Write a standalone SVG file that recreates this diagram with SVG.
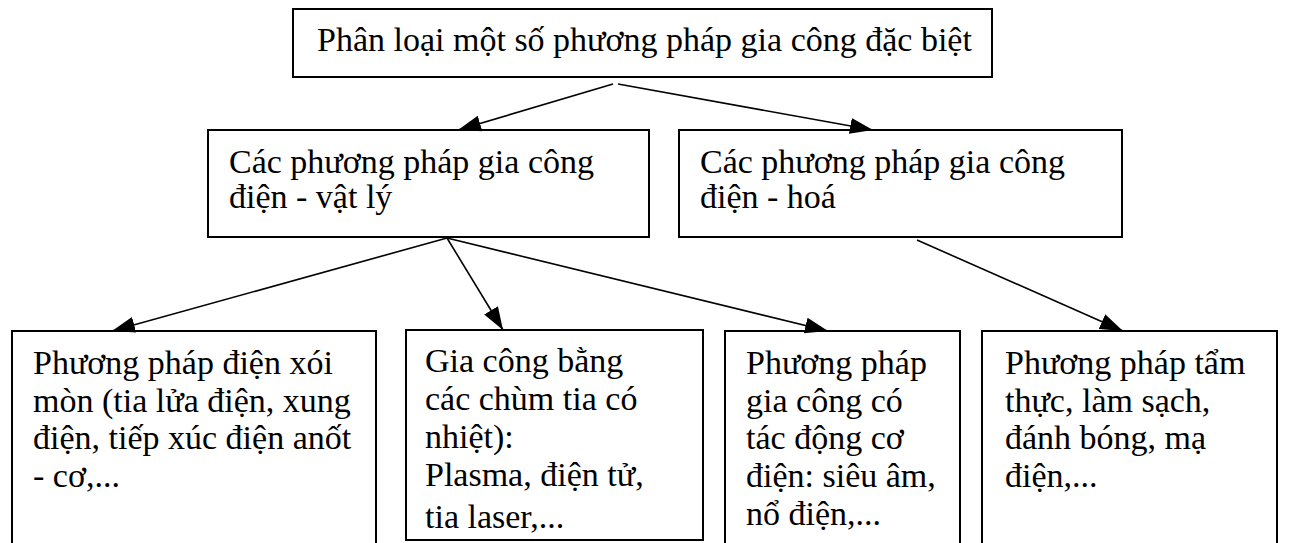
<svg xmlns="http://www.w3.org/2000/svg" width="1289" height="543" viewBox="0 0 1289 543">
<style>
.box{fill:#fff;stroke:#000;stroke-width:2}
.t{font-family:"Liberation Serif","Times New Roman",serif;font-size:34px;fill:#000}
.c{stroke:#000;stroke-width:1.6;fill:none}
</style>
<defs>
<marker id="ah" viewBox="0 0 10 10" refX="10" refY="5" markerWidth="23" markerHeight="23" markerUnits="userSpaceOnUse" orient="auto">
<path d="M0,1.5 L10,5 L0,8.5 Z" fill="#000"/>
</marker>
</defs>
<rect width="1289" height="543" fill="#fff"/>
<g id="n0"><rect class="box" x="293" y="9" width="699" height="68"/>
<text class="t" x="317" y="51">Phân loại một số phương pháp gia công đặc biệt</text></g>
<g id="n1"><rect class="box" x="208" y="130" width="441" height="107"/>
<text class="t" x="229" y="173">Các phương pháp gia công</text>
<text class="t" x="229" y="208">điện - vật lý</text></g>
<g id="n2"><rect class="box" x="679" y="130" width="443" height="107"/>
<text class="t" x="700" y="173">Các phương pháp gia công</text>
<text class="t" x="700" y="208">điện - hoá</text></g>
<g id="n3"><rect class="box" x="12" y="331" width="364" height="230"/>
<text class="t" x="33" y="374">Phương pháp điện xói</text>
<text class="t" x="33" y="412">mòn (tia lửa điện, xung</text>
<text class="t" x="33" y="449">điện, tiếp xúc điện anốt</text>
<text class="t" x="33" y="487">- cơ,...</text></g>
<g id="n4"><rect class="box" x="406" y="330" width="297" height="210"/>
<text class="t" x="425" y="372">Gia công bằng</text>
<text class="t" x="425" y="410">các chùm tia có</text>
<text class="t" x="425" y="448">nhiệt):</text>
<text class="t" x="425" y="486">Plasma, điện tử,</text>
<text class="t" x="425" y="528">tia laser,...</text></g>
<g id="n5"><rect class="box" x="725" y="331" width="235" height="230"/>
<text class="t" x="746" y="374">Phương pháp</text>
<text class="t" x="746" y="412">gia công có</text>
<text class="t" x="746" y="449">tác động cơ</text>
<text class="t" x="746" y="487">điện: siêu âm,</text>
<text class="t" x="746" y="525">nổ điện,...</text></g>
<g id="n6"><rect class="box" x="982" y="331" width="295" height="230"/>
<text class="t" x="1005" y="374">Phương pháp tẩm</text>
<text class="t" x="1005" y="412">thực, làm sạch,</text>
<text class="t" x="1005" y="449">đánh bóng, mạ</text>
<text class="t" x="1005" y="487">điện,...</text></g>
<g id="connectors">
<line class="c" x1="613" y1="84" x2="458" y2="130" marker-end="url(#ah)"/>
<line class="c" x1="618" y1="84" x2="873" y2="130" marker-end="url(#ah)"/>
<line class="c" x1="447" y1="238" x2="112" y2="331" marker-end="url(#ah)"/>
<line class="c" x1="447" y1="238" x2="503" y2="330" marker-end="url(#ah)"/>
<line class="c" x1="447" y1="238" x2="828" y2="331" marker-end="url(#ah)"/>
<line class="c" x1="917" y1="240" x2="1123" y2="331" marker-end="url(#ah)"/>
</g>
</svg>
